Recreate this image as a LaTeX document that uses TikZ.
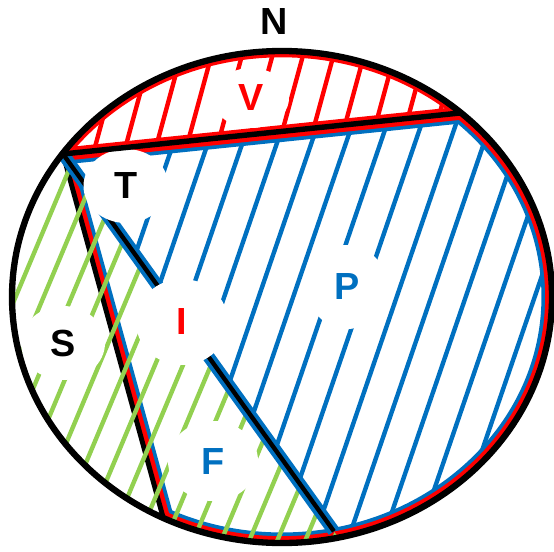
\documentclass[tikz,border=0pt]{standalone}
\usepackage{fontspec}
\setmainfont{Liberation Sans}
\usetikzlibrary{calc,shapes.geometric}
\definecolor{vred}{RGB}{255,0,0}
\definecolor{pblue}{RGB}{0,112,192}
\definecolor{sgreen}{RGB}{146,208,80}
\tikzset{
  hatch/.style={line width=2.5pt},
  tag/.style={font=\bfseries\fontsize{21.5}{26}\selectfont, inner sep=0pt},
  blob/.style={tag, ellipse, fill=white},
  oval/.style={insert path={(282,297) ellipse [x radius=270, y radius=246]}},
  aboveAR/.style={insert path={($(A)!-1!(R)$) -- ($(A)!2!(R)$) -- (900,-300) -- (-400,-300) -- cycle}},
  belowAR/.style={insert path={($(A)!-1!(R)$) -- ($(A)!2!(R)$) -- (900,900) -- (-400,900) -- cycle}},
  rightAB/.style={insert path={($(A)!-1!(B)$) -- ($(A)!2!(B)$) -- (900,900) -- (900,-300) -- cycle}},
  rightAC/.style={insert path={($(A)!-1!(C)$) -- ($(A)!2!(C)$) -- (900,950) -- (900,-300) -- cycle}},
  leftAC/.style={insert path={($(A)!-1!(C)$) -- ($(A)!2!(C)$) -- (-400,950) -- (-400,-300) -- cycle}},
}
\begin{document}
\begin{tikzpicture}[x=0.02cm, y=-0.02cm]
\useasboundingbox (0,0) rectangle (554,551);
% corners on the big oval
\coordinate (A) at (63,154);
\coordinate (R) at (460,113);
\coordinate (B) at (163,517);
\coordinate (C) at (338,537);

% V : red hatching on top
\begin{scope}
\clip[oval]; \clip[aboveAR];
\foreach \k in {-9,...,7}
  \draw[hatch, vred] (290+30.5*\k,103) ++(-30,110) -- ++(60,-220);
\draw[vred, line width=7.2pt, oval];
\draw[vred, line width=7.2pt] (A) -- (R);
\end{scope}

% P : blue hatching
\begin{scope}
\clip[oval]; \clip[belowAR]; \clip[rightAC];
\foreach \k in {-4,...,12}
  \draw[hatch, pblue] (173+34.5*\k,245) ++(-120,350) -- ++(240,-700);
\end{scope}

% I and P borders
\begin{scope}
\clip[oval]; \clip[belowAR]; \clip[rightAB];
\foreach \c/\w in {pblue/12pt, vred/7.8pt} {
  \draw[\c, line width=\w, oval];
  \draw[\c, line width=\w] ($(A)!-0.2!(R)$) -- ($(R)!-0.2!(A)$);
  \draw[\c, line width=\w] ($(A)!-0.2!(B)$) -- ($(B)!-0.2!(A)$);
}
\end{scope}
\draw[line width=2.8pt] (A) -- (B);

% S : green hatching
\begin{scope}
\clip[oval]; \clip[leftAC];
\foreach \k in {-2,...,16}
  \draw[hatch, sgreen] (37+28*\k,246) ++(-147,350) -- ++(294,-700);
\end{scope}

\draw[pblue, line width=7pt] (A) -- ($(A)!0.985!(C)$);
\draw[line width=2.5pt] (A) -- ($(A)!0.985!(C)$);

% labels
\node[blob, minimum width=1.7cm, minimum height=1.48cm] (T) at (126,186) {T};
\node[blob, minimum width=1.84cm, minimum height=1.72cm, text=vred] (I) at (182,322) {I};
\node[blob, minimum width=1.6cm, minimum height=1.68cm, text=pblue] (P) at (347,287) {P};
\node[blob, minimum width=1.8cm, minimum height=1.6cm, text=pblue] (F) at (213,461) {F};
\node[blob, minimum width=1.68cm, minimum height=1.48cm] (S) at (63,343) {S};
\node[blob, minimum width=1.52cm, minimum height=1.2cm, text=vred] (V) at (251,98) {V};
\node[tag] (N) at (274,22) {N};

\draw[line width=3.1pt] (A) -- (R);
\draw[line width=3.6pt, oval];
\end{tikzpicture}
\end{document}
